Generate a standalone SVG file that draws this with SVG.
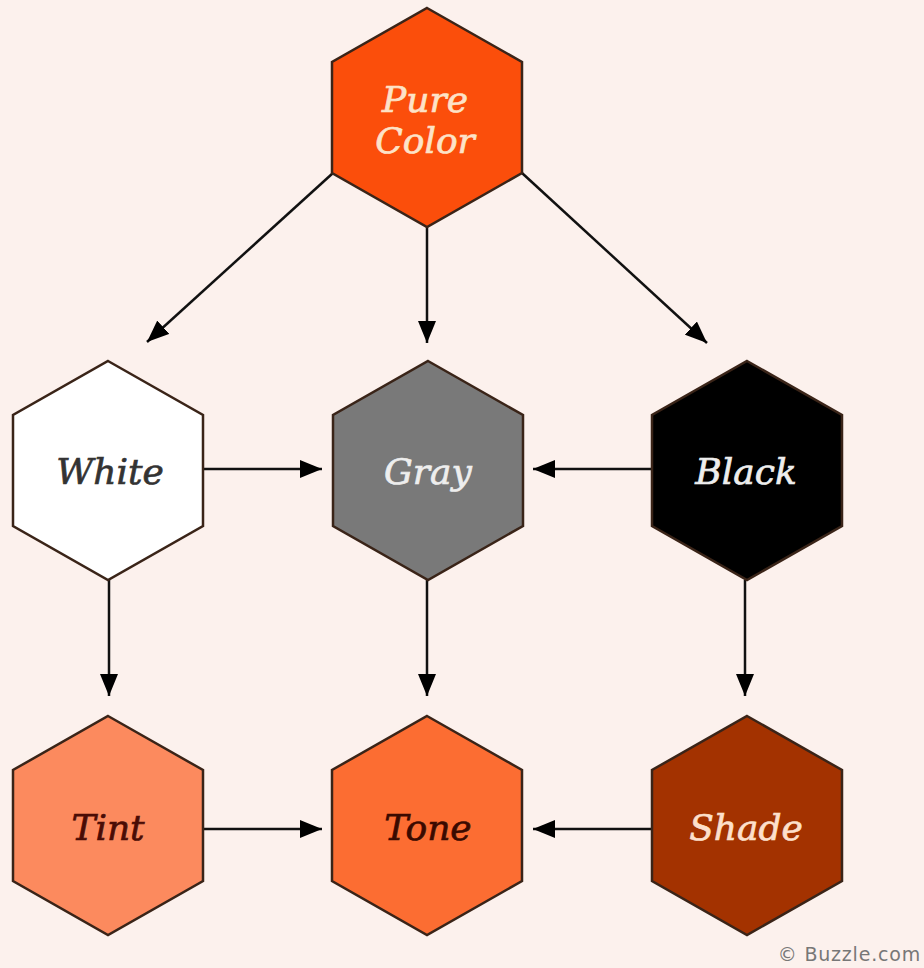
<svg xmlns="http://www.w3.org/2000/svg" width="924" height="968" viewBox="0 0 924 968">
<defs>
<polygon id="hex" points="0,-109 95,-55 95,56 0,110 -95,56 -95,-55"/>
<marker id="ah" markerWidth="22" markerHeight="18" refX="22" refY="9" orient="auto" markerUnits="userSpaceOnUse">
<path d="M0,0 L22,9 L0,18 Z" fill="#000"/>
</marker>
</defs>
<style>
.hx{stroke:#3a2418;stroke-width:2.5}
.lbl{font-family:"DejaVu Serif","Liberation Serif",serif;font-style:italic;font-size:36px;text-anchor:middle;stroke-width:0.7}
.con{stroke:#111;stroke-width:2.5;fill:none;marker-end:url(#ah)}
</style>
<rect width="924" height="968" fill="#fcf1ed"/>
<g id="connectors">
<line class="con" x1="333" y1="173" x2="147" y2="342"/>
<line class="con" x1="427" y1="227" x2="427" y2="343"/>
<line class="con" x1="522" y1="173" x2="707" y2="343"/>
<line class="con" x1="203" y1="469" x2="322" y2="469"/>
<line class="con" x1="652" y1="469" x2="533" y2="469"/>
<line class="con" x1="109" y1="580" x2="109" y2="696"/>
<line class="con" x1="427" y1="580" x2="427" y2="696"/>
<line class="con" x1="745" y1="580" x2="745" y2="696"/>
<line class="con" x1="203" y1="829" x2="322" y2="829"/>
<line class="con" x1="652" y1="829" x2="533" y2="829"/>
</g>
<g id="pure">
<use href="#hex" x="427" y="117" class="hx" fill="#fb4e0b"/>
<text class="lbl" x="425" y="112" fill="#fde3c8" stroke="#fde3c8">Pure</text>
<text class="lbl" x="425" y="153" fill="#fde3c8" stroke="#fde3c8">Color</text>
</g>
<g id="white">
<use href="#hex" x="108" y="470" class="hx" fill="#ffffff"/>
<text class="lbl" x="110" y="484" fill="#333333" stroke="#333333">White</text>
</g>
<g id="gray">
<use href="#hex" x="428" y="470" class="hx" fill="#797979"/>
<text class="lbl" x="428" y="484" fill="#eeeeee" stroke="#eeeeee">Gray</text>
</g>
<g id="black">
<use href="#hex" x="747" y="470" class="hx" fill="#000000"/>
<text class="lbl" x="746" y="484" fill="#eeeeee" stroke="#eeeeee">Black</text>
</g>
<g id="tint">
<use href="#hex" x="108" y="825" class="hx" fill="#fc8a5e"/>
<text class="lbl" x="108" y="840" fill="#4a0c05" stroke="#4a0c05">Tint</text>
</g>
<g id="tone">
<use href="#hex" x="427" y="825" class="hx" fill="#fc6d32"/>
<text class="lbl" x="428" y="840" fill="#3a0a00" stroke="#3a0a00">Tone</text>
</g>
<g id="shade">
<use href="#hex" x="747" y="825" class="hx" fill="#a33200"/>
<text class="lbl" x="746" y="840" fill="#fde0cc" stroke="#fde0cc">Shade</text>
</g>
<text x="921" y="961" font-family="DejaVu Sans, Liberation Sans, sans-serif" font-size="19" letter-spacing="0.8" fill="#777" text-anchor="end">© Buzzle.com</text>
</svg>
